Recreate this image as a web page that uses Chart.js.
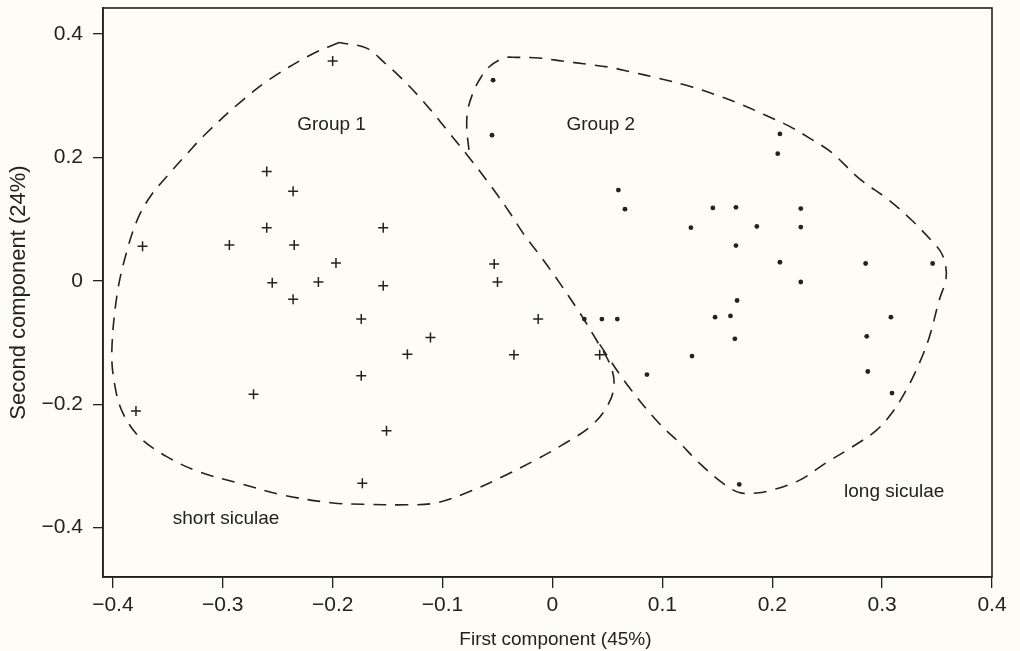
<!DOCTYPE html>
<html>
<head>
<meta charset="utf-8">
<script src="https://cdn.jsdelivr.net/npm/chart.js@4/dist/chart.umd.min.js"></script>
<style>
  html, body { margin: 0; padding: 0; background: #fdfdf5; }
  #wrap { width: 1020px; height: 651px; position: relative; }
</style>
</head>
<body>
<div id="wrap"><canvas id="pca"></canvas></div>
<script>
// scores: group 1 (+), group 2 (dots)
const G1_X = [-0.200, -0.260, -0.236, -0.260, -0.373, -0.294, -0.235, -0.197, -0.255, -0.213, -0.236, -0.154, -0.154,
              -0.174, -0.053, -0.050, -0.013, -0.379, -0.272, -0.111, -0.132, -0.035, 0.043, -0.174, -0.151, -0.173];
const G1_Y = [0.356, 0.177, 0.145, 0.086, 0.056, 0.058, 0.058, 0.029, -0.003, -0.002, -0.030, 0.086, -0.008,
              -0.062, 0.027, -0.002, -0.062, -0.211, -0.184, -0.092, -0.119, -0.120, -0.120, -0.154, -0.243, -0.328];

const G2_X = [-0.054, -0.055, 0.060, 0.066, 0.029, 0.045, 0.059, 0.207, 0.205, 0.146, 0.167, 0.226, 0.126, 0.186, 0.226, 0.167,
              0.207, 0.285, 0.346, 0.226, 0.168, 0.148, 0.162, 0.308, 0.086, 0.166, 0.127, 0.286, 0.287, 0.309, 0.170];
const G2_Y = [0.325, 0.236, 0.147, 0.116, -0.062, -0.062, -0.062, 0.238, 0.206, 0.118, 0.119, 0.117, 0.086, 0.088, 0.087, 0.057,
              0.030, 0.028, 0.028, -0.002, -0.032, -0.059, -0.057, -0.059, -0.152, -0.094, -0.122, -0.090, -0.147, -0.182, -0.330];

// hand drawn envelopes (closed for group 1, group 2 shares its diagonal)
const G1_LINE_X = [-0.194, -0.218, -0.256, -0.285, -0.315, -0.332, -0.349, -0.365, -0.377, -0.387, -0.396, -0.401, -0.398, -0.391,
                   -0.376, -0.351, -0.321, -0.285, -0.246, -0.200, -0.173, -0.133, -0.106, -0.076, -0.046, -0.015, 0.009,
                   0.034, 0.049, 0.056, 0.053, 0.040, 0.0245, 0.0036, -0.0118, -0.0255, -0.0391, -0.0545, -0.0755, -0.0936,
                   -0.1091, -0.1227, -0.1373, -0.1527, -0.1691, -0.194];
const G1_LINE_Y = [0.386, 0.368, 0.328, 0.288, 0.239, 0.207, 0.173, 0.139, 0.102, 0.050, -0.020, -0.117, -0.172, -0.214,
                   -0.253, -0.285, -0.310, -0.328, -0.347, -0.360, -0.362, -0.363, -0.360, -0.342, -0.318, -0.290, -0.266,
                   -0.237, -0.206, -0.172, -0.138, -0.096, -0.051, 0.004, 0.042, 0.074, 0.111, 0.150, 0.199, 0.239,
                   0.273, 0.301, 0.328, 0.353, 0.377, 0.386];

const G2_LINE_X = [0.043, 0.067, 0.097, 0.116, 0.134, 0.155, 0.170, 0.186, 0.200, 0.225, 0.249, 0.273, 0.295, 0.309, 0.322,
                   0.334, 0.343, 0.352, 0.358, 0.358, 0.354, 0.346, 0.327, 0.306, 0.279, 0.254, 0.235, 0.215, 0.193, 0.173,
                   0.149, 0.127, 0.097, 0.070, 0.052, 0.031, 0.009, -0.012, -0.033, -0.044, -0.058, -0.066, -0.072, -0.077,
                   -0.078, -0.076];
const G2_LINE_Y = [-0.103, -0.166, -0.231, -0.263, -0.296, -0.328, -0.343, -0.344, -0.339, -0.323, -0.295, -0.269, -0.242, -0.214, -0.177,
                   -0.133, -0.091, -0.031, 0.001, 0.022, 0.045, 0.063, 0.098, 0.131, 0.166, 0.208, 0.230, 0.251, 0.269, 0.285,
                   0.301, 0.314, 0.328, 0.339, 0.346, 0.351, 0.356, 0.361, 0.362, 0.361, 0.346, 0.327, 0.306, 0.277,
                   0.249, 0.212];

const X_TICKS = [-0.4, -0.3, -0.2, -0.1, 0, 0.1, 0.2, 0.3, 0.4];
const Y_TICKS = [-0.4, -0.2, 0, 0.2, 0.4];

const NOTES = ['Group 1', 'Group 2', 'short siculae', 'long siculae'];
const NOTE_X = [-0.201, 0.044, -0.297, 0.311];
const NOTE_Y = [0.252, 0.252, -0.386, -0.342];

const INK = '#222';
const FONT = '"Liberation Sans", Arial, sans-serif';
const zip = (xs, ys) => xs.map((x, i) => ({ x, y: ys[i] }));
const fmt = v => v === 0 ? '0' : (v < 0 ? '\u2212' : '') + Math.abs(v).toFixed(1);

// full box round the plot + the text labels
const framePlugin = {
  id: 'frame',
  afterDatasetsDraw(chart) {
    const { ctx, chartArea: a, scales } = chart;
    ctx.save();
    ctx.strokeStyle = INK;
    ctx.lineWidth = 1.6;
    ctx.strokeRect(a.left, a.top, a.right - a.left, a.bottom - a.top);
    ctx.fillStyle = INK;
    ctx.font = '19px ' + FONT;
    ctx.textAlign = 'center';
    ctx.textBaseline = 'middle';
    NOTES.forEach((t, i) => {
      ctx.fillText(t, scales.x.getPixelForValue(NOTE_X[i]), scales.y.getPixelForValue(NOTE_Y[i]));
    });
    ctx.restore();
  }
};

const outline = (data) => ({
  data, showLine: true, borderColor: INK, borderWidth: 1.6, borderDash: [13, 9],
  pointRadius: 0, tension: 0.35, fill: false
});

new Chart(document.getElementById('pca'), {
  type: 'scatter',
  data: {
    datasets: [
      outline(zip(G1_LINE_X, G1_LINE_Y)),
      outline(zip(G2_LINE_X, G2_LINE_Y)),
      { data: zip(G1_X, G1_Y), pointStyle: 'cross', pointRadius: 5, borderColor: INK, borderWidth: 1.5 },
      { data: zip(G2_X, G2_Y), pointStyle: 'circle', pointRadius: 2.4, backgroundColor: INK, borderWidth: 0 }
    ]
  },
  options: {
    responsive: true,
    maintainAspectRatio: false,
    animation: false,
    layout: { padding: { top: 8, right: 28, left: 0, bottom: 0 } },
    plugins: { legend: { display: false }, tooltip: { enabled: false } },
    scales: {
      x: {
        type: 'linear', min: -0.409, max: 0.4,
        afterBuildTicks: s => { s.ticks = X_TICKS.map(v => ({ value: v })); },
        afterFit: s => { s.height = 74; s.paddingLeft = 0; s.paddingRight = 0; },
        grid: { drawOnChartArea: false, drawTicks: true, tickLength: 11, color: INK, lineWidth: 1.3 },
        border: { display: true, color: INK, width: 1.6 },
        ticks: { color: INK, padding: 5, maxRotation: 0, font: { family: FONT, size: 21 }, callback: fmt },
        title: { display: true, text: '   First component (45%)', color: INK, padding: { top: 0, bottom: 0 },
                 font: { family: FONT, size: 19 } }
      },
      y: {
        type: 'linear', min: -0.48, max: 0.442,
        afterBuildTicks: s => { s.ticks = Y_TICKS.map(v => ({ value: v })); },
        afterFit: s => { s.width = 103; s.paddingTop = 0; s.paddingBottom = 0; },
        grid: { drawOnChartArea: false, drawTicks: true, tickLength: 10, color: INK, lineWidth: 1.3 },
        border: { display: true, color: INK, width: 1.6 },
        ticks: { color: INK, padding: 10, font: { family: FONT, size: 21 }, callback: fmt },
        title: { display: true, text: 'Second component (24%)', color: INK, padding: { top: 6, bottom: 0 },
                 font: { family: FONT, size: 22 } }
      }
    }
  },
  plugins: [framePlugin]
});
</script>
</body>
</html>
